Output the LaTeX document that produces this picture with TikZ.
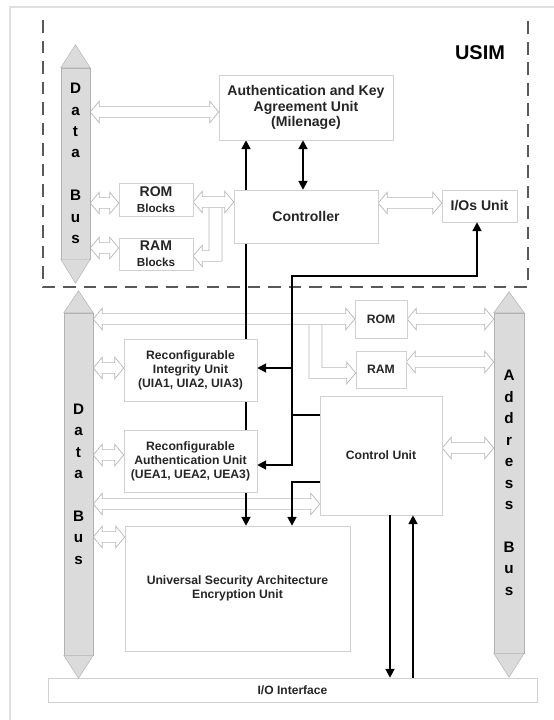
\documentclass[tikz,border=0pt]{standalone}
\usepackage{fontspec}
\setmainfont{Liberation Sans}
\usepackage{tikz}
\usetikzlibrary{arrows.meta, backgrounds, calc}

\def\fathead{7.7pt}
\def\fatwing{9.2pt}
\def\fatshaft{4.6pt}
\def\fatstem{5.5pt}

\tikzstyle{unit} = [rectangle, draw=black!18, fill=white, text=black!85, align=center, inner sep=0pt, font=\fontsize{10.4}{11.9}\selectfont\bfseries]
\tikzstyle{bigunit} = [unit, font=\fontsize{12}{13.2}\selectfont\bfseries]
\tikzstyle{bus} = [rectangle, draw=black!30, fill=black!14, minimum width=0.87cm, inner sep=0pt, align=center, font=\fontsize{13}{18.3}\selectfont\bfseries]
\tikzstyle{bustip} = [draw=black!30, fill=black!14]
\tikzstyle{arrow} = [line width=1.6pt, >={Triangle[length=7.5pt,width=7.5pt]}]
\tikzstyle{usimline} = [black!65, line width=0.9pt, dash pattern=on 11pt off 6.5pt]

\tikzset{
  fat/.style={draw=black!28, fill=white, line width=0.6pt, to path={
    let \p1=(\tikztostart), \p2=(\tikztotarget) in
    (\x1,\y1) -- ({\x1+\fathead},{\y1+\fatwing}) -- ({\x1+\fathead},{\y1+\fatshaft})
    -- ({\x2-\fathead},{\y1+\fatshaft}) -- ({\x2-\fathead},{\y1+\fatwing}) -- (\x2,\y1)
    -- ({\x2-\fathead},{\y1-\fatwing}) -- ({\x2-\fathead},{\y1-\fatshaft})
    -- ({\x1+\fathead},{\y1-\fatshaft}) -- ({\x1+\fathead},{\y1-\fatwing}) -- cycle}},
  fatelbow/.style={draw=black!28, fill=white, line width=0.6pt, to path={
    let \p1=(\tikztostart), \p2=(\tikztotarget), \n1={ifthenelse(\x2>\x1,1,-1)} in
    ({\x1-(\n1)*\fatstem},\y1) -- ({\x1-(\n1)*\fatstem},{\y2-\fatshaft})
    -- ({\x2-(\n1)*\fathead},{\y2-\fatshaft}) -- ({\x2-(\n1)*\fathead},{\y2-\fatwing}) -- (\x2,\y2)
    -- ({\x2-(\n1)*\fathead},{\y2+\fatwing}) -- ({\x2-(\n1)*\fathead},{\y2+\fatshaft})
    -- ({\x1+(\n1)*\fatstem},{\y2+\fatshaft}) -- ({\x1+(\n1)*\fatstem},\y1) -- cycle}}
}

\begin{document}
\begin{tikzpicture}[x=0.03cm, y=-0.03cm]
\useasboundingbox (0,0) rectangle (553,720);

% USIM part
\node (usim) at (480,53) [font=\fontsize{17}{20}\selectfont\bfseries] {USIM};
\node (ubus) [bus, minimum height=5.73cm] at (75.5,163.5) {D\\a\\t\\a\\~\\B\\u\\s};
\node (aka) [bigunit, minimum width=5.22cm, minimum height=1.95cm] at (306,107.5) {Authentication and Key\\Agreement Unit\\(Milenage)};
\node (romb) [unit, minimum width=2.22cm, minimum height=0.99cm, font=\fontsize{10}{13.6}\selectfont\bfseries] at (156,199.5) {{\fontsize{12}{13.6}\selectfont ROM}\\Blocks};
\node (ramb) [unit, minimum width=2.22cm, minimum height=0.96cm, font=\fontsize{10}{13.6}\selectfont\bfseries] at (156,254) {{\fontsize{12}{13.6}\selectfont RAM}\\Blocks};
\node (ctrl) [bigunit, minimum width=4.32cm, minimum height=1.59cm] at (306,216.5) {Controller};
\node (ios) [bigunit, minimum width=2.25cm, minimum height=0.96cm] at (479.5,206) {I/Os Unit};

% crypto part
\node (lbus) [bus, minimum height=10.26cm] at (78.5,484) {D\\a\\t\\a\\~\\B\\u\\s};
\node (abus) [bus, minimum width=0.9cm, minimum height=10.2cm] at (509,483) {A\\d\\d\\r\\e\\s\\s\\~\\B\\u\\s};
\node (riu) [unit, minimum width=3.99cm, minimum height=1.86cm] at (190.5,370) {Reconfigurable\\Integrity Unit\\(UIA1, UIA2, UIA3)};
\node (rau) [unit, minimum width=3.99cm, minimum height=1.86cm] at (190.5,461) {Reconfigurable\\Authentication Unit\\(UEA1, UEA2, UEA3)};
\node (rom) [unit, minimum width=1.56cm, minimum height=1.14cm] at (381,319) {ROM};
\node (ram) [unit, minimum width=1.5cm, minimum height=1.11cm] at (381,369.5) {RAM};
\node (cu) [unit, minimum width=3.66cm, minimum height=3.57cm] at (381,455.5) {Control Unit};
\node (usa) [unit, minimum width=6.75cm, minimum height=3.75cm] at (237.5,588.5) {Universal Security Architecture\\Encryption Unit};
\node (io) [unit, minimum width=14.67cm, minimum height=0.72cm, font=\fontsize{10.3}{12}\selectfont\bfseries] at (292.5,690) {I/O Interface};

\filldraw[bustip] (ubus.north west) -- ([yshift=0.69cm]ubus.north) -- (ubus.north east) -- cycle
  (ubus.south west) -- ([yshift=-0.72cm]ubus.south) -- (ubus.south east) -- cycle;
\filldraw[bustip] (lbus.north west) -- ([yshift=0.66cm]lbus.north) -- (lbus.north east) -- cycle
  (lbus.south west) -- ([yshift=-0.69cm]lbus.south) -- (lbus.south east) -- cycle;
\filldraw[bustip] (abus.north west) -- ([yshift=0.63cm]abus.north) -- (abus.north east) -- cycle
  (abus.south west) -- ([yshift=-0.72cm]abus.south) -- (abus.south east) -- cycle;

\coordinate (ufork) at (215.5,202);
\coordinate (lfork) at (315.5,319);
\coordinate (trunk) at (292,0);

\begin{scope}[on background layer]
\draw[black!12, line width=1pt] (10,730) -- (10,7) -- (560,7);
\draw[usimline] (43,20) -- (43,287) -- (528,287) -- (528,20);
\draw[fat] (ubus.east |- 0,112) to (aka.west |- 0,112);
\draw[fat] (ubus.east |- 0,203) to (romb.west |- 0,203);
\draw[fat] (ubus.east |- 0,248) to (ramb.west |- 0,248);
\draw[fatelbow] (ufork) to (ramb.east |- 0,256);
\draw[fat] (romb.east |- 0,202) to (ctrl.west |- 0,202);
\draw[fat] (ctrl.east |- 0,203) to (ios.west |- 0,203);
\draw[fatelbow] (lfork) to (ram.west |- 0,373);
\draw[fat] (lbus.east |- 0,319) to (rom.west);
\draw[fat] (lbus.east |- 0,368) to (riu.west |- 0,368);
\draw[fat] (lbus.east |- 0,455) to (rau.west |- 0,455);
\draw[fat] (lbus.east |- 0,504) to (cu.west |- 0,504);
\draw[fat] (lbus.east |- 0,537) to (usa.west |- 0,537);
\draw[fat] (rom.east) to (abus.west |- rom.east);
\draw[fat] (ram.east |- 0,362) to (abus.west |- 0,362);
\draw[fat] (cu.east |- 0,448) to (abus.west |- 0,448);
\draw[arrow, <->] (246,0 |- usa.north) -- (246,0 |- aka.south);
\end{scope}

\draw[arrow, <->] (aka.south -| 303,0) -- (ctrl.north -| 303,0);
\draw[arrow, ->] (cu.west |- 0,415) -- (trunk |- 0,415) -- (trunk |- 0,276) -| (ios.south -| 477,0);
\draw[arrow, ->] (trunk |- 0,368) -- (riu.east |- 0,368);
\draw[arrow, ->] (trunk |- 0,415) -- (trunk |- 0,465) -- (rau.east |- 0,465);
\draw[arrow, ->] (cu.west |- 0,482) -| (usa.north -| trunk);
\draw[arrow, ->] (cu.south -| 390,0) -- (io.north -| 390,0);
\draw[arrow, ->] (io.north -| 413,0) -- (cu.south -| 413,0);
\end{tikzpicture}
\end{document}
